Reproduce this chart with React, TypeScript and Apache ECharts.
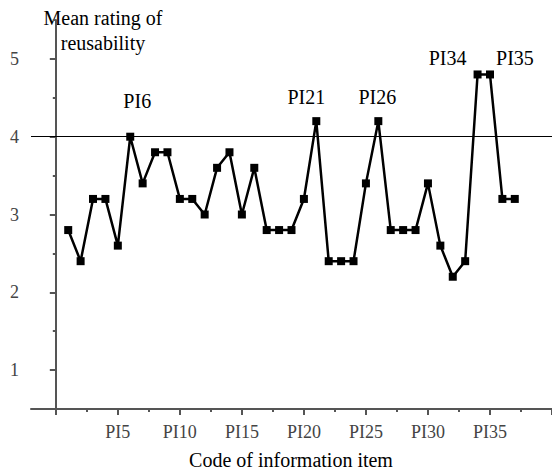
import React, { useEffect, useRef } from "react";
import * as echarts from "echarts";

const itemCodes = [1, 2, 3, 4, 5, 6, 7, 8, 9, 10, 11, 12, 13, 14, 15, 16, 17, 18, 19, 20, 21, 22, 23, 24, 25, 26, 27, 28, 29, 30, 31, 32, 33, 34, 35, 36, 37];
const meanRatings = [2.8, 2.4, 3.2, 3.2, 2.6, 4.0, 3.4, 3.8, 3.8, 3.2, 3.2, 3.0, 3.6, 3.8, 3.0, 3.6, 2.8, 2.8, 2.8, 3.2, 4.2, 2.4, 2.4, 2.4, 3.4, 4.2, 2.8, 2.8, 2.8, 3.4, 2.6, 2.2, 2.4, 4.8, 4.8, 3.2, 3.2];
const xTickLabels = [5, 10, 15, 20, 25, 30, 35];
const xMajorTicks = [0, 5, 10, 15, 20, 25, 30, 35, 40];
const xMinorTicks = [2.5, 7.5, 12.5, 17.5, 22.5, 27.5, 32.5, 37.5];
const yTickLabels = [1, 2, 3, 4, 5];
const yMinorTicks = [0.5, 1.5, 2.5, 3.5, 4.5, 5.5];
const highlighted = [6, 21, 26, 34, 35];
const thresholdValue = 4;

const labelOffsets: Record<number, [number, number]> = {
  6: [7, -17],
  21: [-10, -5],
  26: [-1, -5],
  34: [-30, 3],
  35: [25, 3],
};

const FONT = "Liberation Serif";

export default function App() {
  const ref = useRef<HTMLDivElement>(null);
  useEffect(() => {
    if (!ref.current) return;
    const chart = echarts.init(ref.current, undefined, { renderer: "svg" });
    const data = itemCodes.map((c, i) => {
      const base: any = { value: [c, meanRatings[i]] };
      if (highlighted.includes(c)) {
        base.label = {
          show: true,
          position: "top",
          formatter: "PI" + c,
          offset: labelOffsets[c],
          fontFamily: FONT,
          fontSize: 20,
          color: "#000",
        };
      }
      return base;
    });
    const axisLineStyle = { color: "#555", width: 2 };
    const titleStyle = (text: string) => ({
      text,
      fontFamily: FONT,
      fontSize: 20,
      fill: "#000",
      textAlign: "center",
      textVerticalAlign: "middle",
    });
    chart.setOption({
      animation: false,
      backgroundColor: "#fff",
      textStyle: { fontFamily: FONT },
      grid: { left: 31, right: 0, top: 20, bottom: 65, containLabel: false },
      xAxis: [
        {
          type: "value",
          min: -2,
          max: 40,
          interval: 5,
          splitLine: { show: false },
          axisLine: { show: true, lineStyle: axisLineStyle },
          axisTick: { show: true, length: 6, customValues: xMajorTicks, lineStyle: axisLineStyle },
          axisLabel: {
            customValues: xTickLabels,
            formatter: (v: number) => "PI" + v,
            fontFamily: FONT,
            fontSize: 18,
            color: "#444",
            margin: 14,
          },
        },
        {
          type: "value",
          min: -2,
          max: 40,
          position: "bottom",
          splitLine: { show: false },
          axisLine: { show: false },
          axisTick: { show: true, length: 3, customValues: xMinorTicks, lineStyle: axisLineStyle },
          axisLabel: { show: false },
        },
      ],
      yAxis: [
        {
          type: "value",
          min: 0.5,
          max: 5.5,
          interval: 0.5,
          splitLine: { show: false },
          axisLine: { show: true, lineStyle: axisLineStyle },
          axisTick: { show: true, length: 6, customValues: yTickLabels, lineStyle: axisLineStyle },
          axisLabel: {
            customValues: yTickLabels,
            formatter: (v: number) => (Number.isInteger(v) ? String(v) : ""),
            fontFamily: FONT,
            fontSize: 18,
            color: "#444",
            margin: 12,
          },
        },
        {
          type: "value",
          min: 0.5,
          max: 5.5,
          position: "left",
          offset: 0,
          alignTicks: false,
          splitLine: { show: false },
          axisLine: { show: false },
          axisTick: { show: true, length: 3, customValues: yMinorTicks, lineStyle: axisLineStyle },
          axisLabel: { show: false },
        },
      ],
      series: [
        {
          type: "line",
          xAxisIndex: 0,
          yAxisIndex: 0,
          data,
          symbol: "rect",
          symbolSize: 8,
          itemStyle: { color: "#000" },
          lineStyle: { color: "#000", width: 2.5 },
          markLine: {
            silent: true,
            symbol: "none",
            label: { show: false },
            lineStyle: { color: "#000", width: 1.2, type: "solid" },
            data: [{ yAxis: thresholdValue }],
          },
        },
      ],
      graphic: [
        { type: "text", x: 103, y: 18, style: titleStyle("Mean rating of") },
        { type: "text", x: 103, y: 43, style: titleStyle("reusability") },
        { type: "text", x: 291, y: 460, style: titleStyle("Code of information item") },
      ],
    });
    return () => chart.dispose();
  }, []);
  return <div ref={ref} style={{ position: "fixed", left: 0, top: 0, width: 552, height: 474 }} />;
}
